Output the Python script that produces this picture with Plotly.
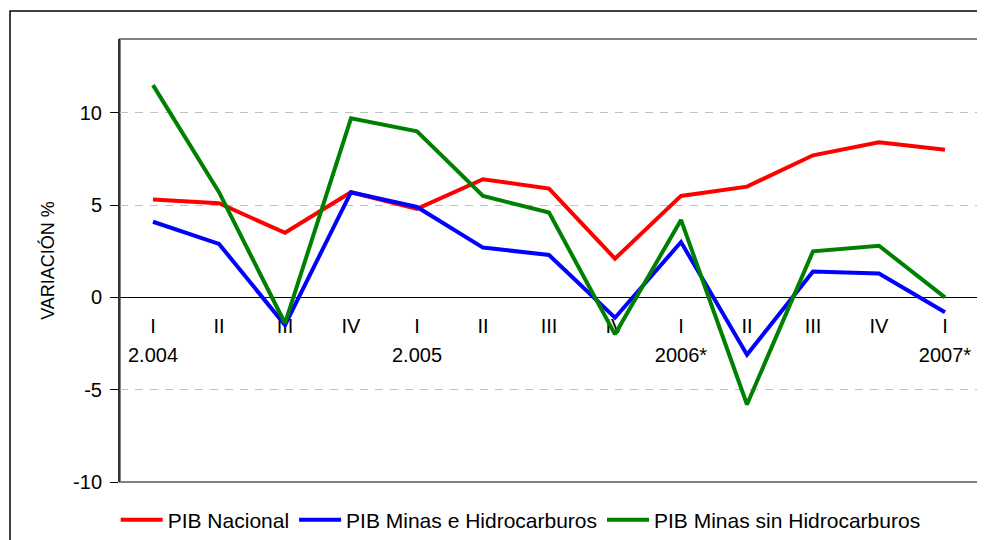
import plotly.graph_objects as go

# quarters and year labels under the zero line
quarters = ["I", "II", "III", "IV", "I", "II", "III", "IV", "I", "II", "III", "IV", "I"]
years = ["2.004", "", "", "", "2.005", "", "", "", "2006*", "", "", "", "2007*"]

# variacion % por trimestre
pib_nacional = [5.3, 5.1, 3.5, 5.7, 4.8, 6.4, 5.9, 2.1, 5.5, 6.0, 7.7, 8.4, 8.0]
pib_minas_hidro = [4.1, 2.9, -1.5, 5.7, 4.9, 2.7, 2.3, -1.1, 3.0, -3.1, 1.4, 1.3, -0.8]
pib_minas_sin_hidro = [11.5, 5.7, -1.4, 9.7, 9.0, 5.5, 4.6, -2.0, 4.2, -5.8, 2.5, 2.8, 0.0]

y_ticks = [-10, -5, 0, 5, 10]
y_ticktext = ["-10", "-5", "0", "5", "10"]

x = list(range(len(quarters)))
font = "Liberation Sans, Arial, sans-serif"

fig = go.Figure()

# category labels sit just below zero, like the excel original (drawn first so lines go over them)
fig.add_trace(go.Scatter(x=x, y=[-1.66] * len(x), mode="text", text=quarters, showlegend=False,
                         hoverinfo="skip", textfont=dict(size=20, color="black", family=font)))
fig.add_trace(go.Scatter(x=x, y=[-3.23] * len(x), mode="text", text=years, showlegend=False,
                         hoverinfo="skip", textfont=dict(size=20, color="black", family=font)))

fig.add_trace(go.Scatter(x=x, y=pib_nacional, mode="lines", name="PIB Nacional",
                         line=dict(color="#ff0000", width=4)))
fig.add_trace(go.Scatter(x=x, y=pib_minas_hidro, mode="lines", name="PIB Minas e Hidrocarburos",
                         line=dict(color="#0000ff", width=4)))
fig.add_trace(go.Scatter(x=x, y=pib_minas_sin_hidro, mode="lines", name="PIB Minas sin Hidrocarburos",
                         line=dict(color="#008000", width=4)))

# plot area box (gray) and outer frame (black)
fig.add_shape(type="rect", xref="paper", yref="paper", x0=0, y0=0, x1=1, y1=1,
              line=dict(color="#808080", width=2), layer="below")
fig.add_shape(type="rect", xref="paper", yref="paper", x0=-0.1282, y0=-0.2, x1=1.05, y1=1.0632,
              line=dict(color="black", width=1.5), layer="below")

# page body has an 8px margin, so the figure is a bit smaller than the window
fig.update_layout(
    width=977, height=532,
    margin=dict(l=112, r=7, t=31, b=58, autoexpand=False),
    paper_bgcolor="white", plot_bgcolor="white",
    font=dict(family=font, size=20, color="black"),
    showlegend=True,
    legend=dict(orientation="h", x=0.467, xanchor="center", yref="container", y=0.0376,
                yanchor="middle", font=dict(size=21), itemwidth=42, bgcolor="rgba(0,0,0,0)"),
)
fig.update_xaxes(range=[-0.5, len(quarters) - 0.5], showticklabels=False, showgrid=False,
                 zeroline=False, showline=False)
fig.update_yaxes(range=[-10, 14], tickvals=y_ticks, ticktext=y_ticktext, ticks="outside", ticklen=8,
                 tickcolor="black", tickfont=dict(size=20), ticklabelstandoff=4,
                 showline=True, linecolor="#333333",
                 linewidth=2, showgrid=True, gridcolor="#c0c0c0", griddash="8px,7px",
                 zeroline=True, zerolinecolor="black", zerolinewidth=1,
                 title=dict(text="VARIACIÓN %", font=dict(size=18), standoff=14))

fig.write_html("out.html")
